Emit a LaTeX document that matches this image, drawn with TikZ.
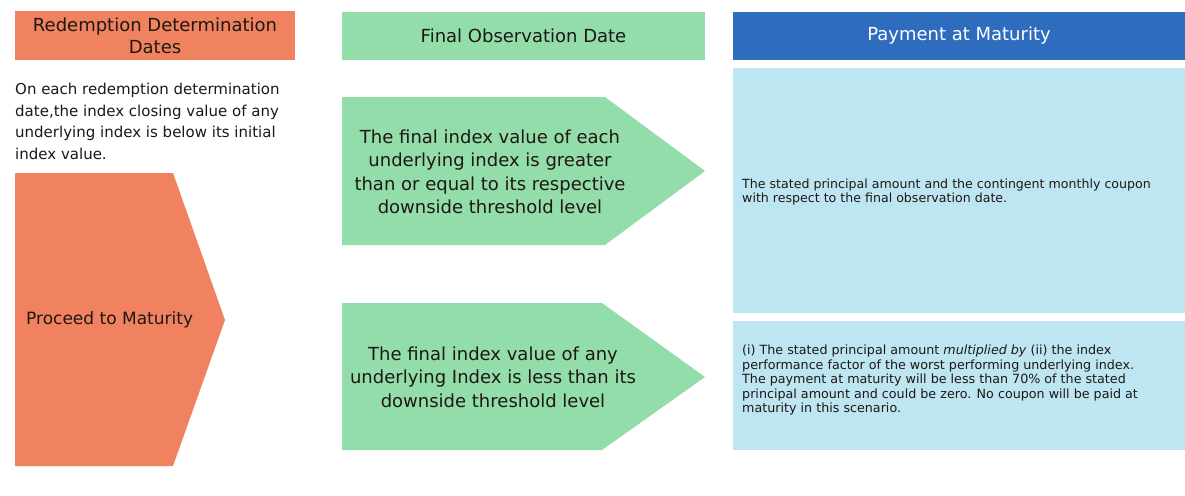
\documentclass[tikz,border=0pt]{standalone}
\usepackage{fontspec}
\setmainfont{DejaVu Sans}
\definecolor{orangeC}{RGB}{240,130,96}
\definecolor{greenC}{RGB}{147,221,170}
\definecolor{blueH}{RGB}{46,108,190}
\definecolor{lightB}{RGB}{190,230,242}
\definecolor{darkT}{RGB}{30,24,20}
\begin{document}
\begin{tikzpicture}[x=1pt,y=-1pt,
  hdrtext/.style={inner sep=0pt, align=center, font=\fontsize{18}{22}\selectfont, text=darkT},
  bodytext/.style={inner sep=0pt, align=left, font=\fontsize{15}{21.7}\selectfont, text=darkT},
  arrowtext/.style={inner sep=0pt, align=center, font=\fontsize{18}{23.5}\selectfont, text=darkT},
  smalltext/.style={inner sep=0pt, align=left, text=darkT}]
\useasboundingbox (0,0) rectangle (1185,495);
\fill[white] (0,0) rectangle (1185,495);

% headers
\fill[orangeC] (15,11) rectangle (295,60);
\node[hdrtext] (hRed) at (155,36) {Redemption Determination\\Dates};
\fill[greenC] (342,12) rectangle (705,60);
\node[hdrtext] (hFin) at (523.5,36) {Final Observation Date};
\fill[blueH] (733,12) rectangle (1185,60);
\node[hdrtext, text=white] (hPay) at (959,36) {Payment at Maturity};

% left text
\node[bodytext, anchor=north west] (cond) at (15,83)
  {On each redemption determination\\date,the index closing value of any\\underlying index is below its initial\\index value.};

% orange pentagon
\fill[orangeC] (15,173) -- (173,173) -- (225,320) -- (173,466) -- (15,466) -- cycle;
\node[inner sep=0pt, anchor=west, font=\fontsize{17}{20}\selectfont, text=darkT] (proc) at (26,320) {Proceed to Maturity};

% green pentagons
\fill[greenC] (342,97) -- (605,97) -- (705,171) -- (605,245) -- (342,245) -- cycle;
\node[arrowtext] (g1) at (490,172)
  {The final index value of each\\underlying index is greater\\than or equal to its respective\\downside threshold level};
\fill[greenC] (342,303) -- (602,303) -- (705,377) -- (602,450) -- (342,450) -- cycle;
\node[arrowtext] (g2) at (493,377)
  {The final index value of any\\underlying Index is less than its\\downside threshold level};

% light blue boxes
\fill[lightB] (733,68) rectangle (1185,313);
\node[smalltext, anchor=west, font=\fontsize{12.6}{14}\selectfont] (p1) at (742,192)
  {The stated principal amount and the contingent monthly coupon\\with respect to the final observation date.};
\fill[lightB] (733,321) rectangle (1185,450);
\node[smalltext, anchor=west, font=\fontsize{12.7}{14.5}\selectfont] (p2) at (742,380)
  {(i) The stated principal amount \textit{multiplied by} (ii) the index\\performance factor of the worst performing underlying index.\\The payment at maturity will be less than 70\% of the stated\\principal amount and could be zero. No coupon will be paid at\\maturity in this scenario.};
\end{tikzpicture}
\end{document}
